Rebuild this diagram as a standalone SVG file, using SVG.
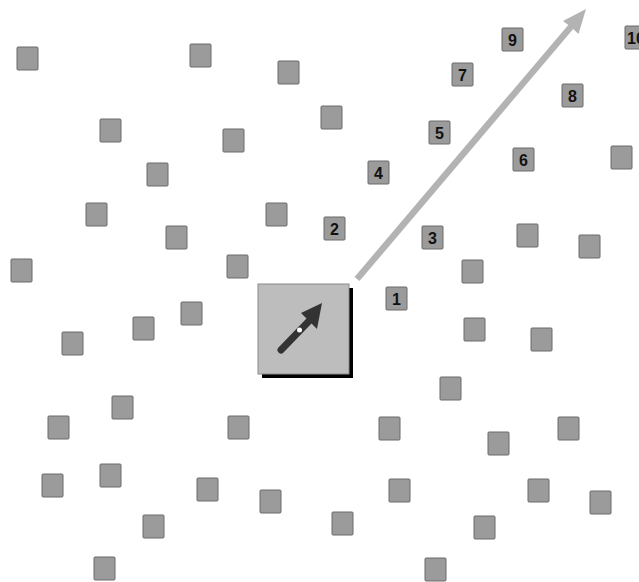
<svg xmlns="http://www.w3.org/2000/svg" width="639" height="582" viewBox="0 0 639 582">
<style>
.sq{fill:#9b9b9b;stroke:#6a6a6a;stroke-width:1}
.lb{font-family:"Liberation Sans",Arial,sans-serif;font-weight:bold;font-size:16px;fill:#111;text-anchor:middle}
</style>
<defs>
<rect id="s" class="sq" width="21" height="23" rx="1"/>
</defs>
<rect width="639" height="582" fill="#fff"/>
<g id="squares">
<use href="#s" x="17" y="47"/>
<use href="#s" x="190" y="44"/>
<use href="#s" x="278" y="61"/>
<use href="#s" x="100" y="119"/>
<use href="#s" x="223" y="129"/>
<use href="#s" x="147" y="163"/>
<use href="#s" x="86" y="203"/>
<use href="#s" x="266" y="203"/>
<use href="#s" x="166" y="226"/>
<use href="#s" x="11" y="259"/>
<use href="#s" x="227" y="255"/>
<use href="#s" x="62" y="332"/>
<use href="#s" x="133" y="317"/>
<use href="#s" x="181" y="302"/>
<use href="#s" x="112" y="396"/>
<use href="#s" x="48" y="416"/>
<use href="#s" x="228" y="416"/>
<use href="#s" x="100" y="464"/>
<use href="#s" x="42" y="474"/>
<use href="#s" x="197" y="478"/>
<use href="#s" x="260" y="490"/>
<use href="#s" x="143" y="515"/>
<use href="#s" x="94" y="557"/>
<use href="#s" x="464" y="318"/>
<use href="#s" x="531" y="328"/>
<use href="#s" x="440" y="377"/>
<use href="#s" x="379" y="417"/>
<use href="#s" x="488" y="432"/>
<use href="#s" x="558" y="417"/>
<use href="#s" x="389" y="479"/>
<use href="#s" x="528" y="479"/>
<use href="#s" x="590" y="491"/>
<use href="#s" x="332" y="512"/>
<use href="#s" x="474" y="516"/>
<use href="#s" x="425" y="558"/>
<use href="#s" x="321" y="106"/>
<use href="#s" x="611" y="146"/>
<use href="#s" x="517" y="224"/>
<use href="#s" x="579" y="235"/>
<use href="#s" x="462" y="260"/>
</g>
<g id="n1"><use href="#s" x="386" y="287"/><text class="lb" x="396.5" y="304.5">1</text></g>
<g id="n2"><use href="#s" x="324" y="217"/><text class="lb" x="334.5" y="234.5">2</text></g>
<g id="n3"><use href="#s" x="422" y="226"/><text class="lb" x="432.5" y="243.5">3</text></g>
<g id="n4"><use href="#s" x="368" y="161"/><text class="lb" x="378.5" y="178.5">4</text></g>
<g id="n5"><use href="#s" x="429" y="121"/><text class="lb" x="439.5" y="138.5">5</text></g>
<g id="n6"><use href="#s" x="513" y="148"/><text class="lb" x="523.5" y="165.5">6</text></g>
<g id="n7"><use href="#s" x="452" y="63"/><text class="lb" x="462.5" y="80.5">7</text></g>
<g id="n8"><use href="#s" x="562" y="84"/><text class="lb" x="572.5" y="101.5">8</text></g>
<g id="n9"><use href="#s" x="502" y="28"/><text class="lb" x="512.5" y="45.5">9</text></g>
<g id="n10"><use href="#s" x="625" y="26"/><text class="lb" x="636" y="43.5">10</text></g>
<g id="connectors">
<line x1="357" y1="279" x2="572" y2="25.5" stroke="#b3b3b3" stroke-width="6.5"/>
<polygon points="586,9 578.5,34 571,27 563,21" fill="#b3b3b3"/>
</g>
<g id="center">
<rect x="262" y="288" width="91" height="90" fill="#000"/>
<rect x="258" y="284" width="91" height="90" fill="#bdbdbd" stroke="#8a8a8a" stroke-width="1"/>
<line x1="281" y1="350" x2="309" y2="321" stroke="#333" stroke-width="7" stroke-linecap="round"/>
<polygon points="322,303 317,329 301,313" fill="#333"/>
<circle cx="299.5" cy="330" r="2.5" fill="#fff"/>
</g>
</svg>
